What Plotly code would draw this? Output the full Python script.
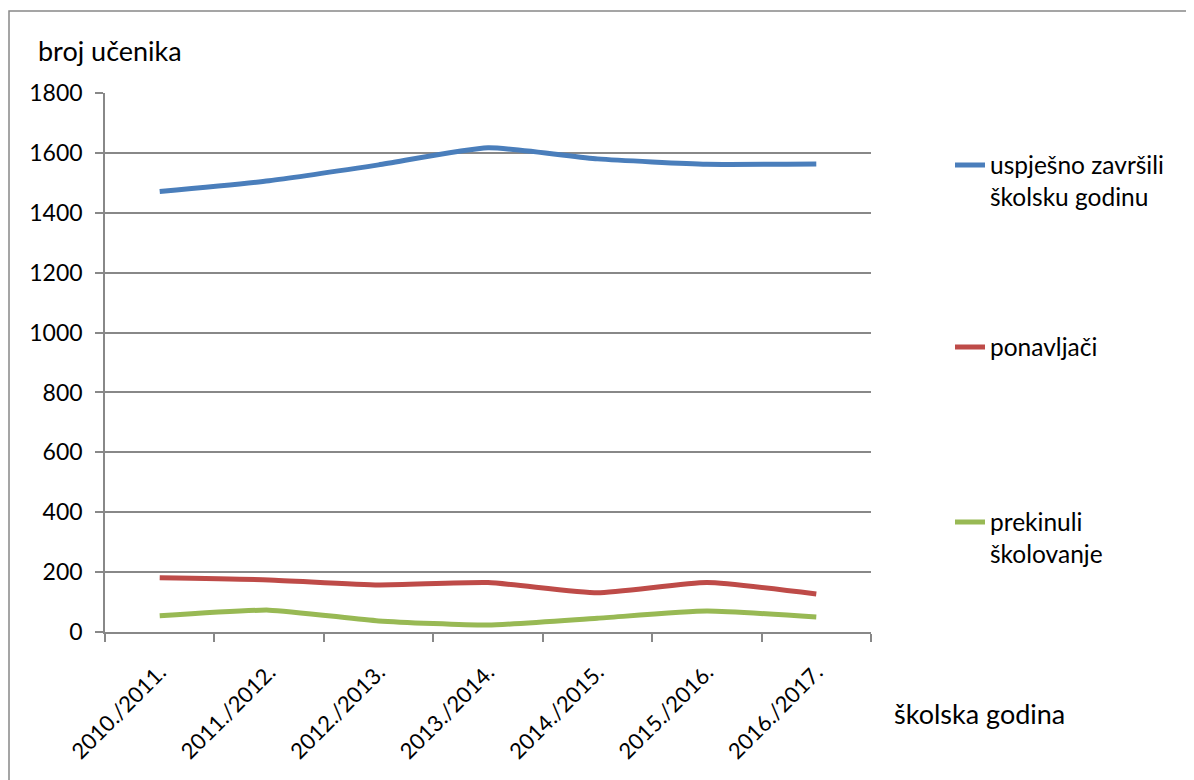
import plotly.graph_objects as go

categories = ["2010./2011.", "2011./2012.", "2012./2013.", "2013./2014.",
              "2014./2015.", "2015./2016.", "2016./2017."]
uspjesno = [1471, 1507, 1560, 1617, 1580, 1562, 1563]
ponavljaci = [181, 174, 157, 165, 131, 165, 127]
prekinuli = [54, 73, 37, 23, 46, 70, 50]

series_names = ["uspješno završili<br>školsku godinu", "ponavljači", "prekinuli<br>školovanje"]
colors = ["#4A7EBB", "#BE4B48", "#98B954"]

FONT = "Lato"
fig = go.Figure()
for i, (vals, name, col) in enumerate(zip([uspjesno, ponavljaci, prekinuli], series_names, colors)):
    fig.add_trace(go.Scatter(
        x=categories, y=vals, name=name, mode="lines",
        line=dict(color=col, width=5, shape="spline", smoothing=0.5),
        legend="legend" if i == 0 else f"legend{i+1}",
    ))

OFF = 8  # page body offset
W, H = 1194, 780
L, T = 105 - OFF, 93 - OFF
pw, ph = 766, 539
R = W - L - pw
B = H - T - ph

def px(xpix):
    return (xpix - OFF - L) / pw

def py(ypix):
    return (T + ph - (ypix - OFF)) / ph

legend_common = dict(font=dict(family=FONT, size=24.5, color="#000"), bgcolor="rgba(0,0,0,0)",
                     xanchor="left", yanchor="middle", valign="top", x=px(950))

fig.update_layout(
    width=W, height=H,
    margin=dict(l=L, r=R, t=T, b=B),
    paper_bgcolor="white", plot_bgcolor="white",
    font=dict(family=FONT, size=23, color="#000"),
    showlegend=True,
    legend=dict(**legend_common, y=py(181)),
    legend2=dict(**legend_common, y=py(347)),
    legend3=dict(**legend_common, y=py(538)),
    xaxis=dict(
        type="category", tickangle=-45, showgrid=False,
        showline=True, linecolor="#888", linewidth=1.5,
        ticks="outside", ticklen=8, tickcolor="#888", tickwidth=1.5,
        tickson="boundaries", range=[-0.5, 6.5], ticklabelstandoff=17,
        tickfont=dict(family=FONT, size=22, color="#000"),
    ),
    yaxis=dict(
        range=[0, 1800], dtick=200, tick0=0,
        showgrid=True, gridcolor="#888", gridwidth=1.5,
        showline=True, linecolor="#888", linewidth=1.5,
        ticks="outside", ticklen=8, tickcolor="#888", tickwidth=1.5,
        zeroline=False, ticklabelstandoff=8,
        tickfont=dict(family=FONT, size=23, color="#000"),
    ),
    shapes=[dict(type="rect", xref="paper", yref="paper",
                 x0=px(9), y0=py(820), x1=px(1230), y1=py(11),
                 line=dict(color="#888", width=1.5), fillcolor="rgba(0,0,0,0)", layer="below")],
    annotations=[
        dict(text="broj učenika", xref="paper", yref="paper", x=px(36), y=py(50),
             xanchor="left", yanchor="middle", showarrow=False,
             font=dict(family=FONT, size=27, color="#000")),
        dict(text="školska godina", xref="paper", yref="paper", x=px(892), y=py(713),
             xanchor="left", yanchor="middle", showarrow=False,
             font=dict(family=FONT, size=27, color="#000")),
    ],
)

fig.write_html("out.html")
